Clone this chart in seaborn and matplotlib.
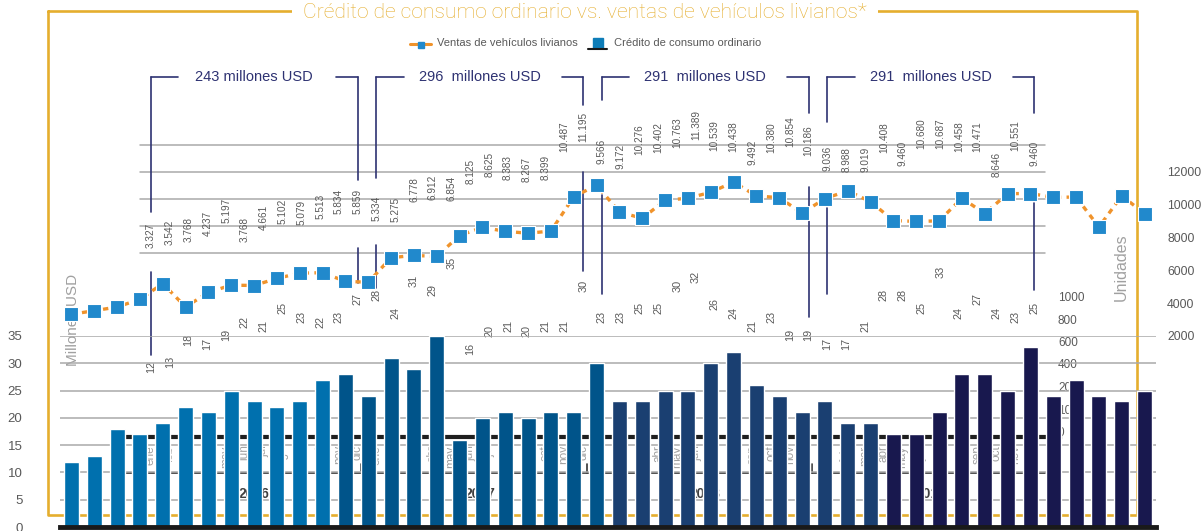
"""
Crédito de consumo ordinario vs. ventas de vehículos livianos
Barras (crédito, millones USD) + línea (ventas, unidades) 2016-2019.
"""

import matplotlib
matplotlib.use("Agg")

import matplotlib.pyplot as plt
import numpy as np
import pandas as pd
import seaborn as sns
from matplotlib import font_manager

# ============================================================
# DATOS
# ============================================================
meses = ["ene", "feb", "mar", "abr", "may", "jun", "jul", "ago", "sep", "oct", "nov", "dic"]
anios = ["2016", "2017", "2018", "2019"]

# Crédito de consumo ordinario (millones USD)
credito = [12, 13, 18, 17, 19, 22, 21, 25, 23, 22, 23, 27,
           28, 24, 31, 29, 35, 16, 20, 21, 20, 21, 21, 30,
           23, 23, 25, 25, 30, 32, 26, 24, 21, 23, 19, 19,
           17, 17, 21, 28, 28, 25, 33, 24, 27, 24, 23, 25]

# Ventas de vehículos livianos (unidades)
ventas = [3327, 3542, 3768, 4237, 5197, 3768, 4661, 5102, 5079, 5513, 5834, 5859,
          5334, 5275, 6778, 6912, 6854, 8125, 8625, 8383, 8267, 8399, 10487, 11195,
          9566, 9172, 10276, 10402, 10763, 11389, 10539, 10438, 9492, 10380, 10854, 10186,
          9036, 8988, 9019, 10408, 9460, 10680, 10687, 10458, 10471, 8646, 10551, 9460]

totales = ["243 millones USD", "296  millones USD", "291  millones USD", "291  millones USD"]
escala_oculta = ["1000", "800", "600", "400", "200", "100", "0"]

# ============================================================
# ESTILO
# ============================================================
sns.set_theme(style="white")
plt.rcParams["font.family"] = ["Liberation Sans", "DejaVu Sans"]

instaladas = {f.name for f in font_manager.fontManager.ttflist}
ESTRECHA = "Liberation Sans Narrow" if "Liberation Sans Narrow" in instaladas else "Liberation Sans"
FINA = "Roboto" if "Roboto" in instaladas else "Liberation Sans"

ORO = "#E5AE2E"
NARANJA = "#F0932B"
AZUL = "#2189CC"
NAVY = "#2E3272"
GRIS_TXT = "#595959"
GRIS_CLARO = "#A0A0A0"
REJILLA = "#A9A9A9"
colores_anio = ["#0070AE", "#00548A", "#1A3F71", "#18184E"]

W, H = 1201, 531
fig = plt.figure(figsize=(W / 100, H / 100), dpi=100, facecolor="white")


def caja(x0, y0, x1, y1):
    """Rectángulo en píxeles (y desde arriba) -> coordenadas de figura."""
    return [x0 / W, 1 - y1 / H, (x1 - x0) / W, (y1 - y0) / H]


# ------------------------------------------------------------
# Fondo: marco dorado, título, leyenda y textos sueltos
# ------------------------------------------------------------
ax_f = fig.add_axes([0, 0, 1, 1], zorder=-1)
ax_f.set_xlim(0, W)
ax_f.set_ylim(H, 0)
ax_f.axis("off")

ax_f.plot([48, 48, 1137, 1137, 48], [11, 515, 515, 11, 11], color=ORO, lw=1.9)
ax_f.text(585, 13, "Crédito de consumo ordinario vs. ventas de vehículos livianos*",
          ha="center", va="center", color=ORO, fontsize=15.2, family=FINA, fontweight="light",
          bbox=dict(facecolor="white", edgecolor="none", pad=8))

# Leyenda manual
ax_f.plot([410, 431], [44, 44], color=NARANJA, lw=2.2)
ax_f.plot([420.5], [44.5], marker="s", ms=4, color=AZUL, ls="none")
ax_f.text(437, 43, "Ventas de vehículos livianos", va="center", fontsize=8,
          family=ESTRECHA, color=GRIS_TXT)
ax_f.add_patch(plt.Rectangle((593, 38), 10, 10, color="#0E7DB8"))
ax_f.plot([588, 607], [49, 49], color="#1A1A1A", lw=1.5)
ax_f.text(614, 43, "Crédito de consumo ordinario", va="center", fontsize=8,
          family=ESTRECHA, color=GRIS_TXT)

ax_f.text(73, 320, "Millones USD", rotation=90, ha="center", va="center",
          fontsize=11, color=GRIS_CLARO)
ax_f.text(1121, 267, "Unidades", rotation=90, ha="center", va="center",
          fontsize=11.5, color=GRIS_CLARO)
for k, etiqueta in enumerate(escala_oculta):
    ax_f.text(1058, 298 + 22.5 * k, etiqueta, va="center", fontsize=8.5, color=GRIS_TXT)

# ------------------------------------------------------------
# Capa superpuesta: eje de meses, rejilla superior, etiquetas, llaves
# ------------------------------------------------------------
OV_X0, OV_X1, OV_Y0, OV_Y1 = 124, 1060, 60, 437
ax_ov = fig.add_axes(caja(OV_X0, OV_Y0, OV_X1, OV_Y1), zorder=0)
ax_ov.patch.set_visible(False)
paso = 18.79
ax_ov.set_xlim((OV_X0 - 151) / paso, (OV_X1 - 151) / paso)
# etiquetas de ventas: y_px = 293 - 0.01347 * valor
ESC, Y0 = 0.01347, 293
ax_ov.set_ylim((Y0 - OV_Y1) / ESC, (Y0 - OV_Y0) / ESC)

for s in ["left", "right", "top"]:
    ax_ov.spines[s].set_visible(False)
ax_ov.spines["bottom"].set_linewidth(3)
ax_ov.spines["bottom"].set_color("#1F1F1F")
ax_ov.set_yticks([])
ax_ov.set_xticks(range(48))
ax_ov.set_xticklabels(meses * 4, rotation=90, fontsize=8.5, color=GRIS_CLARO)
ax_ov.tick_params(axis="x", length=0, pad=6)

for nivel in [3000, 5000, 7000, 9000, 11000]:
    ax_ov.axhline(nivel, xmin=0.017, xmax=0.984, color=REJILLA, lw=1.1, zorder=0)

trans = ax_ov.get_xaxis_transform()


def fr(ypx):
    return (OV_Y1 - ypx) / (OV_Y1 - OV_Y0)


ax_ov.plot([ax_ov.get_xlim()[0], 47.6], [fr(473)] * 2, transform=trans,
           clip_on=False, color="#333333", lw=1.2)
for k in range(3):
    ax_ov.plot([12 * k + 11.2] * 2, [fr(464), fr(473)], transform=trans,
               clip_on=False, color="#333333", lw=1.2)
for k, anio in enumerate(anios):
    ax_ov.text(12 * k + 5.5, fr(494), anio, transform=trans, ha="center", va="center",
               fontsize=10, fontweight="bold", color="#404040")

for i, v in enumerate(ventas):
    ax_ov.text(i, v, f"{v:,}".replace(",", "."), rotation=90, ha="center", va="bottom",
               fontsize=7.2, color=GRIS_TXT)

# Llaves con el total anual
tramos = [
    [[(77, 212), (272, 355)], [(77, 180), (248, 283)]],
    [[(77, 178), (245, 288)], [(77, 105), (172, 271)]],
    [[(77, 100), (195, 294)], [(77, 113), (187, 317)]],
    [[(77, 122), (208, 294)], [(77, 113), (203, 290)]],
]
for k, texto in enumerate(totales):
    xi, xd = 12 * k, 12 * k + 11
    ax_ov.plot([xi, xi + 1.45], [fr(77)] * 2, transform=trans, color=NAVY, lw=1.2, clip_on=False)
    ax_ov.plot([xd - 1.15, xd], [fr(77)] * 2, transform=trans, color=NAVY, lw=1.2, clip_on=False)
    for x, segs in zip([xi, xd], tramos[k]):
        for a, b in segs:
            ax_ov.plot([x, x], [fr(a), fr(b)], transform=trans, color=NAVY, lw=1.2, clip_on=False)
    ax_ov.text((xi + xd) / 2, fr(77), texto, transform=trans, ha="center", va="center",
               fontsize=12 if ESTRECHA != "Liberation Sans" else 10.5,
               family=ESTRECHA, color=NAVY)

# Etiquetas del crédito (otra escala vertical): y_px = 426.4 - 4.486 * valor
ax_ovb = ax_ov.twinx()
ax_ovb.set_ylim((426.4 - OV_Y1) / 4.486, (426.4 - OV_Y0) / 4.486)
ax_ovb.axis("off")
for i, c in enumerate(credito):
    ax_ovb.text(i, c, str(c), rotation=90, ha="center", va="bottom",
                fontsize=7.8, color=GRIS_TXT)

# ------------------------------------------------------------
# Barras: crédito de consumo ordinario
# ------------------------------------------------------------
ax_bar = fig.add_axes(caja(60, 336, 1156, 527), zorder=1)
ax_bar.patch.set_visible(False)
df_bar = pd.DataFrame({
    "pos": range(len(credito)),
    "credito": credito,
    "anio": np.repeat(anios, 12),
})
sns.barplot(data=df_bar, x="pos", y="credito", hue="anio",
            palette=dict(zip(anios, colores_anio)), dodge=False, width=0.66,
            saturation=1, legend=False, ax=ax_bar)
ax_bar.set_xlim(-0.5, 47.5)
ax_bar.set_ylim(0, 35)
ax_bar.set_yticks(range(0, 36, 5))
ax_bar.set_xticks([])
ax_bar.set_xlabel("")
ax_bar.set_ylabel("")
ax_bar.grid(axis="y", color=REJILLA, lw=1.1)
ax_bar.set_axisbelow(True)
for s in ["left", "right", "top"]:
    ax_bar.spines[s].set_visible(False)
ax_bar.spines["bottom"].set_linewidth(3.5)
ax_bar.spines["bottom"].set_color("#1A1A1A")
ax_bar.tick_params(axis="y", length=0, pad=27, labelsize=9.5, labelcolor=GRIS_TXT)

# ------------------------------------------------------------
# Línea: ventas de vehículos livianos
# ------------------------------------------------------------
ax_lin = fig.add_axes(caja(60, 172, 1156, 336), zorder=2)
ax_lin.patch.set_visible(False)
pos = np.arange(len(ventas))
sns.lineplot(x=pos, y=ventas, color=NARANJA, lw=2.4, linestyle=(0, (1.6, 1.6)), ax=ax_lin)
sns.scatterplot(x=pos, y=ventas, marker="s", s=105, color=AZUL, edgecolor="white",
                linewidth=0.8, zorder=3, ax=ax_lin)
ax_lin.set_xlim(-0.5, 47.5)
ax_lin.set_ylim(2000, 12000)
ax_lin.yaxis.tick_right()
ax_lin.set_yticks(range(2000, 12001, 2000))
ax_lin.set_xticks([])
ax_lin.set_xlabel("")
ax_lin.set_ylabel("")
ax_lin.tick_params(axis="y", length=0, pad=8, labelsize=8.8, labelcolor=GRIS_TXT)
for s in ax_lin.spines.values():
    s.set_visible(False)

fig.savefig("out.png", dpi=100, facecolor="white")
plt.close(fig)
